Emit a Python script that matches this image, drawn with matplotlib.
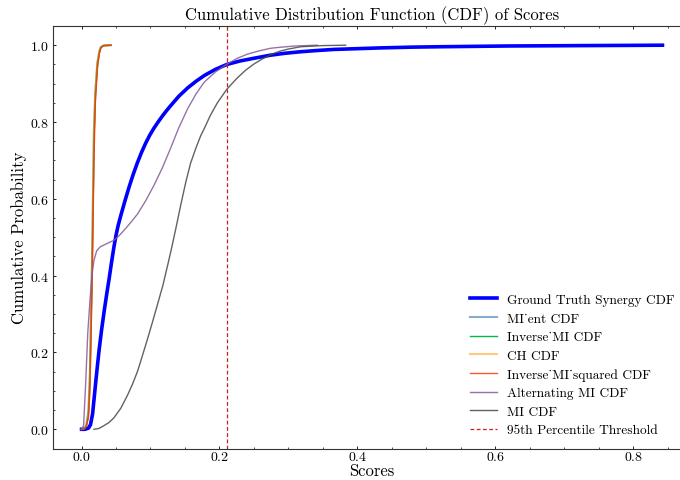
import matplotlib
matplotlib.use("Agg")
import matplotlib.pyplot as plt
from matplotlib.ticker import MultipleLocator

# --- data ---
gt_x = [0.0, 0.005, 0.010, 0.013, 0.016, 0.0185, 0.0207, 0.023, 0.0255, 0.029, 0.033,
        0.0365, 0.040, 0.0435, 0.047, 0.050, 0.053, 0.057, 0.063, 0.069, 0.075, 0.081,
        0.087, 0.093, 0.099, 0.105, 0.111, 0.117, 0.123, 0.129, 0.141, 0.154, 0.166,
        0.178, 0.194, 0.211, 0.230, 0.250, 0.274, 0.295, 0.318, 0.340, 0.366, 0.400,
        0.434, 0.480, 0.520, 0.570, 0.620, 0.680, 0.730, 0.790, 0.8425]
gt_y = [0.0, 0.0, 0.003, 0.012, 0.040, 0.085, 0.125, 0.165, 0.207, 0.258, 0.310,
        0.352, 0.392, 0.435, 0.475, 0.505, 0.530, 0.557, 0.595, 0.631, 0.664, 0.694,
        0.721, 0.745, 0.766, 0.784, 0.800, 0.815, 0.829, 0.842, 0.867, 0.889, 0.906,
        0.921, 0.937, 0.950, 0.959, 0.966, 0.974, 0.979, 0.983, 0.986, 0.989, 0.991,
        0.993, 0.995, 0.996, 0.997, 0.998, 0.9985, 0.999, 0.9995, 1.0]

fast_x = [0.0, 0.004, 0.007, 0.010, 0.012, 0.0135, 0.015, 0.016, 0.017, 0.018, 0.020,
          0.023, 0.026, 0.028, 0.032, 0.0425]
mi_ent_y = [0.0, 0.002, 0.01, 0.05, 0.14, 0.28, 0.42, 0.54, 0.66, 0.78, 0.88,
            0.955, 0.985, 0.995, 0.999, 1.0]
inv_mi_y = [0.0, 0.002, 0.01, 0.04, 0.12, 0.25, 0.38, 0.50, 0.62, 0.75, 0.87,
            0.95, 0.983, 0.995, 0.999, 1.0]
ch_y = [0.0, 0.002, 0.01, 0.04, 0.12, 0.26, 0.40, 0.52, 0.65, 0.78, 0.88,
        0.955, 0.985, 0.995, 0.999, 1.0]
inv_mi_sq_y = [0.0, 0.001, 0.008, 0.03, 0.10, 0.22, 0.35, 0.46, 0.58, 0.70, 0.85,
               0.94, 0.98, 0.993, 0.999, 1.0]

alt_x = [0.0, 0.003, 0.006, 0.009, 0.012, 0.015, 0.018, 0.022, 0.027, 0.035, 0.047,
         0.055, 0.064, 0.072, 0.081, 0.093, 0.105, 0.117, 0.129, 0.141, 0.154, 0.166,
         0.178, 0.194, 0.211, 0.226, 0.241, 0.257, 0.274, 0.290, 0.310, 0.342]
alt_y = [0.0, 0.01, 0.12, 0.25, 0.33, 0.40, 0.44, 0.465, 0.475, 0.482, 0.492,
         0.505, 0.523, 0.540, 0.560, 0.595, 0.635, 0.680, 0.731, 0.785, 0.835, 0.873,
         0.904, 0.930, 0.951, 0.966, 0.977, 0.985, 0.992, 0.995, 0.998, 1.0]

mi_x = [0.018, 0.025, 0.033, 0.040, 0.047, 0.057, 0.067, 0.074, 0.081, 0.088, 0.096,
        0.103, 0.110, 0.118, 0.125, 0.131, 0.137, 0.144, 0.151, 0.158, 0.166, 0.173,
        0.178, 0.187, 0.197, 0.211, 0.226, 0.238, 0.250, 0.262, 0.274, 0.287, 0.300,
        0.318, 0.350, 0.383]
mi_y = [0.0, 0.002, 0.010, 0.018, 0.030, 0.055, 0.090, 0.118, 0.150, 0.190, 0.237,
        0.280, 0.324, 0.375, 0.428, 0.475, 0.525, 0.585, 0.642, 0.692, 0.733, 0.765,
        0.783, 0.818, 0.850, 0.886, 0.915, 0.935, 0.951, 0.964, 0.975, 0.984, 0.990,
        0.996, 0.999, 1.0]

threshold = 0.211

# --- style (science-like) ---
plt.rcParams.update({
    "font.family": ["cmr10", "DejaVu Serif"],
    "mathtext.fontset": "cm",
    "axes.formatter.use_mathtext": True,
    "axes.linewidth": 0.8,
    "axes.edgecolor": "#333333",
    "xtick.direction": "in",
    "ytick.direction": "in",
    "xtick.top": True,
    "ytick.right": True,
    "xtick.major.size": 2.5,
    "ytick.major.size": 2.5,
    "xtick.minor.size": 1.3,
    "ytick.minor.size": 1.3,
    "xtick.major.width": 0.6,
    "ytick.major.width": 0.6,
    "xtick.minor.width": 0.5,
    "ytick.minor.width": 0.5,
    "xtick.major.pad": 1.0,
    "ytick.major.pad": 2.5,
    "xtick.labelsize": 10,
    "ytick.labelsize": 10,
})

fig = plt.figure(figsize=(6.8, 4.81), dpi=100)
ax = fig.add_axes([52.5 / 680, 31.5 / 481, 639 / 680, 422.5 / 481])

ax.plot(gt_x, gt_y, color="blue", lw=2.6, label="Ground Truth Synergy CDF")
ax.plot(fast_x, mi_ent_y, color="#0C5DA5", alpha=0.5, lw=1.5, label="MI_ent CDF")
ax.plot(fast_x, inv_mi_y, color="#00B945", lw=1.0, label="Inverse_MI CDF")
ax.plot(fast_x, ch_y, color="#FF9500", alpha=0.5, lw=1.5, label="CH CDF")
ax.plot(fast_x, inv_mi_sq_y, color="#FF2C00", alpha=0.8, lw=1.0, label="Inverse_MI_squared CDF")
ax.plot(alt_x, alt_y, color="#845B97", alpha=0.85, lw=1.0, label="Alternating MI CDF")
ax.plot(mi_x, mi_y, color="#474747", alpha=0.85, lw=1.0, label="MI CDF")
ax.axvline(threshold, color="#c42020", ls="--", lw=0.9, dashes=(3, 2),
           label="95th Percentile Threshold")

ax.xaxis.set_major_locator(MultipleLocator(0.2))
ax.xaxis.set_minor_locator(MultipleLocator(0.05))
ax.yaxis.set_major_locator(MultipleLocator(0.2))
ax.yaxis.set_minor_locator(MultipleLocator(0.05))
ax.set_ylim(-0.05, 1.05)

ax.set_title("Cumulative Distribution Function (CDF) of Scores", fontsize=12, pad=5)
ax.set_xlabel("Scores", fontsize=12, labelpad=0)
ax.set_ylabel("Cumulative Probability", fontsize=12, labelpad=2)

ax.legend(loc="lower right", frameon=False, fontsize=9.6, labelspacing=0.47,
          borderaxespad=0, bbox_to_anchor=(1.0, 0.0794),
          bbox_transform=fig.transFigure)

fig.savefig("out.png", dpi=100)
